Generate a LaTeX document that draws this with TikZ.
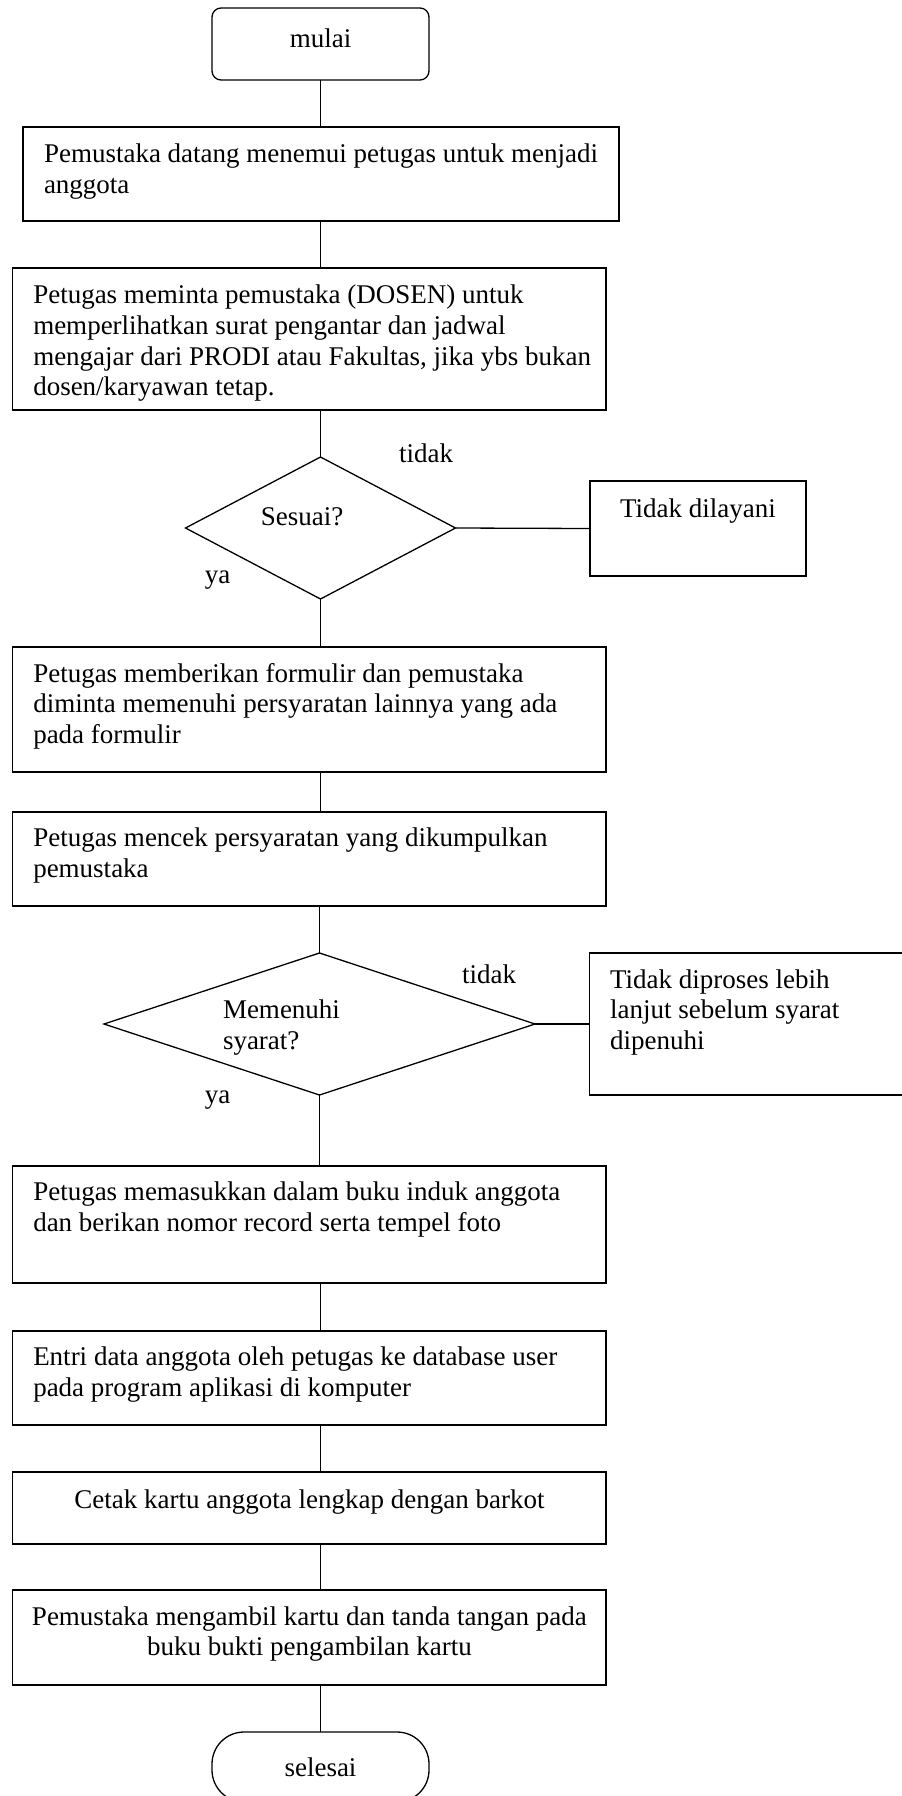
\documentclass[tikz,border=0pt]{standalone}
\usepackage{fontspec}
\setmainfont{Liberation Serif}
\usetikzlibrary{shapes.geometric}
\begin{document}
\begin{tikzpicture}[x=1pt,y=-1pt, line width=1.3pt,
  box/.style={draw, rectangle, inner sep=0pt, outer sep=0pt},
  term/.style={draw, rectangle, rounded corners=9pt, inner sep=0pt, outer sep=0pt},
  dec/.style={draw, diamond, inner sep=0pt, outer sep=0pt},
  txt/.style={font=\fontsize{27}{30.7}\selectfont, inner sep=0pt, outer sep=0pt, align=left, anchor=north west},
  ctxt/.style={font=\fontsize{27}{30.7}\selectfont, inner sep=0pt, outer sep=0pt, align=center, anchor=north},
  lbl/.style={font=\fontsize{27}{30.7}\selectfont, inner sep=0pt, outer sep=0pt}
]
\fill[white] (0,0) rectangle (902,1796);
\useasboundingbox (0,0) rectangle (902,1796);
% shapes
\node[term, minimum width=217pt, minimum height=72pt] (start) at (320.5,44) {};
\node[box, minimum width=596pt, minimum height=94pt] (b1) at (321,174) {};
\node[box, minimum width=593.3pt, minimum height=142pt] (b2) at (309.4,339) {};
\node[dec, minimum width=270pt, minimum height=142pt] (d1) at (320.5,528) {};
\node[box, minimum width=216pt, minimum height=95pt] (r1) at (698,528.5) {};
\node[box, minimum width=593.3pt, minimum height=125pt] (b3) at (309.4,709.5) {};
\node[box, minimum width=593.3pt, minimum height=94pt] (b4) at (309.4,859) {};
\node[dec, minimum width=431pt, minimum height=142pt] (d2) at (319.5,1024) {};
\node[box, minimum width=322pt, minimum height=142pt] (r2) at (750.5,1024) {};
\node[box, minimum width=593.3pt, minimum height=117pt] (b5) at (309.4,1224.5) {};
\node[box, minimum width=593.3pt, minimum height=94pt] (b6) at (309.4,1378) {};
\node[box, minimum width=593.3pt, minimum height=72pt] (b7) at (309.4,1508) {};
\node[box, minimum width=593.3pt, minimum height=95pt] (b8) at (309.4,1637.5) {};
\node[term, rounded corners=32pt, minimum width=217pt, minimum height=70pt] (end) at (320.5,1767) {};
% texts
\node[lbl] (tstart) at (320.5,38) {mulai};
\node[txt, xshift=21pt, yshift=-17pt] (t1) at (b1.north west) {Pemustaka datang menemui petugas untuk menjadi\\anggota};
\node[txt, xshift=20.5pt, yshift=-17pt] (t2) at (b2.north west) {Petugas meminta pemustaka (DOSEN) untuk\\memperlihatkan surat pengantar dan jadwal\\mengajar dari PRODI atau Fakultas, jika ybs bukan\\dosen/karyawan tetap.};
\node[lbl] (td1) at (302,517) {Sesuai?};
\node[ctxt, yshift=-17.5pt] (tr1) at (r1.north) {Tidak dilayani};
\node[txt, xshift=20.5pt, yshift=-16pt] (t3) at (b3.north west) {Petugas memberikan formulir dan pemustaka\\diminta memenuhi persyaratan lainnya yang ada\\pada formulir};
\node[txt, xshift=20.5pt, yshift=-16pt] (t4) at (b4.north west) {Petugas mencek persyaratan yang dikumpulkan\\pemustaka};
\node[txt] (td2) at (223,1000) {Memenuhi\\syarat?};
\node[txt, xshift=20.5pt, yshift=-16.5pt] (tr2) at (r2.north west) {Tidak diproses lebih\\lanjut sebelum syarat\\dipenuhi};
\node[txt, xshift=20.5pt, yshift=-16pt] (t5) at (b5.north west) {Petugas memasukkan dalam buku induk anggota\\dan berikan nomor record serta tempel foto};
\node[txt, xshift=20.5pt, yshift=-16pt] (t6) at (b6.north west) {Entri data anggota oleh petugas ke database user\\pada program aplikasi di komputer};
\node[ctxt, yshift=-17.5pt] (t7) at (b7.north) {Cetak kartu anggota lengkap dengan barkot};
\node[ctxt, yshift=-16.5pt] (t8) at (b8.north) {Pemustaka mengambil kartu dan tanda tangan pada\\buku bukti pengambilan kartu};
\node[lbl] (tend) at (320.5,1767) {selesai};
% labels
\node[lbl] (no1) at (426,453) {tidak};
\node[lbl] (yes1) at (217.5,580) {ya};
\node[lbl] (no2) at (489,974) {tidak};
\node[lbl] (yes2) at (217.5,1100) {ya};
% connectors
\draw (start.south) -- (start.south |- b1.north);
\draw (start.south |- b1.south) -- (start.south |- b2.north);
\draw (d1.north |- b2.south) -- (d1.north);
\draw (d1.east) -- (r1.west);
\draw (d1.south) -- (d1.south |- b3.north);
\draw (d1.south |- b3.south) -- (d1.south |- b4.north);
\draw (d2.north |- b4.south) -- (d2.north);
\draw (d2.east) -- (r2.west);
\draw (d2.south) -- (d2.south |- b5.north);
\draw (end.north |- b5.south) -- (end.north |- b6.north);
\draw (end.north |- b6.south) -- (end.north |- b7.north);
\draw (end.north |- b7.south) -- (end.north |- b8.north);
\draw (end.north |- b8.south) -- (end.north);
\end{tikzpicture}
\end{document}
